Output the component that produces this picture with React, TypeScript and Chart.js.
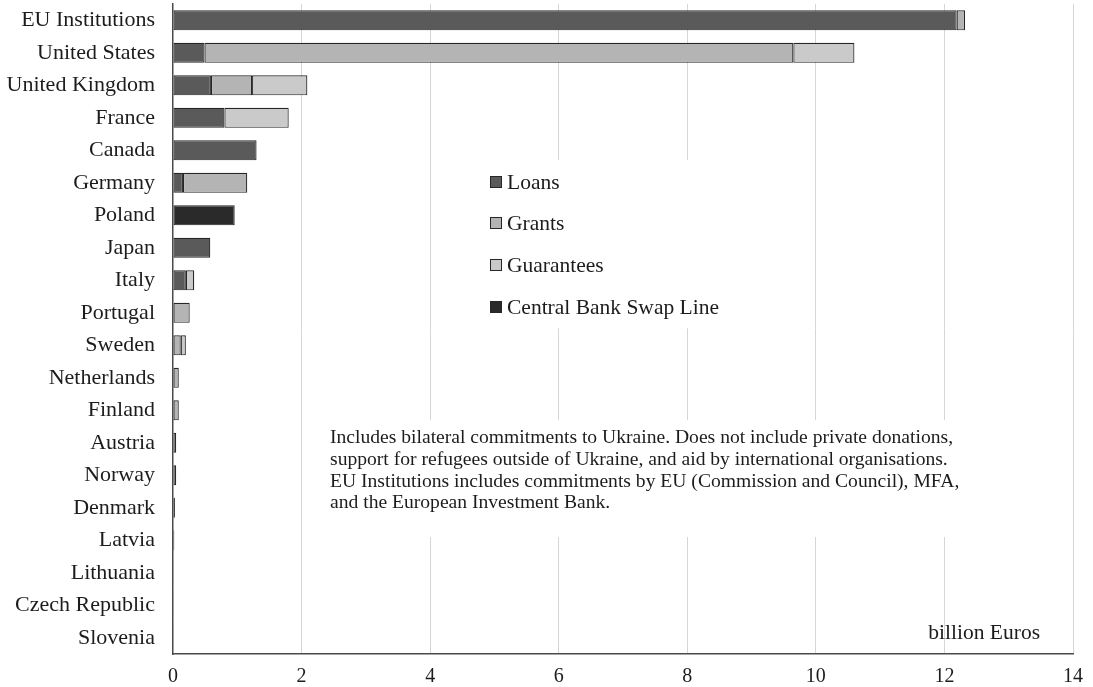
import React, { useEffect, useRef } from "react";
import { Chart, registerables } from "chart.js";

Chart.register(...registerables);

const categories = [
  "EU Institutions", "United States", "United Kingdom", "France", "Canada",
  "Germany", "Poland", "Japan", "Italy", "Portugal", "Sweden", "Netherlands",
  "Finland", "Austria", "Norway", "Denmark", "Latvia", "Lithuania",
  "Czech Republic", "Slovenia",
];

const loans = [12.19, 0.49, 0.59, 0.8, 1.3, 0.155, null, 0.58, 0.2, null, null, null, null, null, null, null, null, null, null, null];
const grants = [0.13, 9.16, 0.64, null, null, 1.0, null, null, null, 0.26, 0.12, 0.09, 0.09, 0.05, 0.05, 0.03, 0.02, 0.01, 0.01, 0.005];
const guarantees = [null, 0.95, 0.86, 1.0, null, null, null, null, 0.13, null, 0.08, null, null, null, null, null, null, null, null, null];
const swapLine = [null, null, null, null, null, null, 0.96, null, null, null, null, null, null, null, null, null, null, null, null, null];

const xTicks = [0, 2, 4, 6, 8, 10, 12, 14];

const noteLines = [
  "Includes bilateral commitments to Ukraine. Does not include private donations,",
  "support for refugees outside of Ukraine, and aid by international organisations.",
  "EU Institutions includes commitments by EU (Commission and Council), MFA,",
  "and the European Investment Bank.",
];
const unitLabel = "billion Euros";

const FONT = "'Liberation Serif', 'Times New Roman', serif";
const TEXT = "#1c1c1c";

export default function App() {
  const ref = useRef<HTMLCanvasElement | null>(null);

  useEffect(() => {
    const canvas = ref.current;
    if (!canvas) return;

    const overlay = {
      id: "overlay",
      beforeDatasetsDraw(chart: any) {
        const ctx = chart.ctx;
        ctx.save();
        ctx.fillStyle = "#ffffff";
        ctx.fillRect(470, 160, 290, 168);
        ctx.fillRect(320, 420, 730, 117);
        ctx.restore();
      },
      afterDatasetsDraw(chart: any) {
        const ctx = chart.ctx;
        ctx.save();
        const ys = [182, 223, 265, 307];
        chart.data.datasets.forEach((ds: any, i: number) => {
          const y = ys[i];
          ctx.fillStyle = ds.backgroundColor;
          ctx.fillRect(490.5, y - 5.5, 11, 11);
          ctx.strokeStyle = "#262626";
          ctx.lineWidth = 1;
          ctx.strokeRect(490.5, y - 5.5, 11, 11);
          ctx.fillStyle = TEXT;
          ctx.font = `21.5px ${FONT}`;
          ctx.textBaseline = "middle";
          ctx.textAlign = "left";
          ctx.fillText(ds.label, 507, y + 1);
        });
        ctx.font = `19.6px ${FONT}`;
        ctx.fillStyle = TEXT;
        ctx.textBaseline = "middle";
        ctx.textAlign = "left";
        noteLines.forEach((l, i) => ctx.fillText(l, 330, 438 + i * 21.7));
        ctx.font = `21.5px ${FONT}`;
        ctx.textAlign = "right";
        ctx.fillText(unitLabel, 1040, 633);
        ctx.restore();
      },
    };

    const chart = new Chart(canvas, {
      type: "bar",
      data: {
        labels: categories,
        datasets: [
          { label: "Loans", data: loans as any, backgroundColor: "#5a5a5a" },
          { label: "Grants", data: grants as any, backgroundColor: "#b4b4b4" },
          { label: "Guarantees", data: guarantees as any, backgroundColor: "#cacaca" },
          { label: "Central Bank Swap Line", data: swapLine as any, backgroundColor: "#2a2a2a" },
        ].map((d) => ({
          ...d,
          borderColor: "#262626",
          borderWidth: 1.2,
          borderSkipped: false,
          barPercentage: 0.62,
          categoryPercentage: 1,
        })),
      },
      options: {
        indexAxis: "y",
        animation: false,
        responsive: false,
        maintainAspectRatio: false,
        layout: { padding: { top: 4, right: 20, left: 0, bottom: 0 } },
        plugins: {
          legend: { display: false },
          tooltip: { enabled: false },
        },
        scales: {
          x: {
            stacked: true,
            min: 0,
            max: 14,
            afterBuildTicks(scale: any) {
              scale.ticks = xTicks.map((v) => ({ value: v }));
            },
            afterFit(scale: any) {
              scale.height = 33;
              scale.paddingLeft = 0;
              scale.paddingRight = 0;
            },
            grid: {
              color: (c: any) => (c.tick && c.tick.value === 0 ? "rgba(0,0,0,0)" : "#d6d6d6"),
              lineWidth: 1,
              drawTicks: false,
            },
            border: { color: "#4a4a4a", width: 1.5 },
            ticks: {
              padding: 11,
              color: TEXT,
              font: { family: FONT, size: 20 },
            },
          },
          y: {
            stacked: true,
            afterFit(scale: any) {
              scale.width = 173;
              scale.paddingTop = 0;
              scale.paddingBottom = 0;
            },
            grid: { display: false, drawTicks: false },
            border: { color: "#4a4a4a", width: 1.5 },
            ticks: {
              padding: 18,
              color: TEXT,
              autoSkip: false,
              font: { family: FONT, size: 22 },
            },
          },
        },
      },
      plugins: [overlay],
    });

    return () => chart.destroy();
  }, []);

  return (
    <div style={{ position: "fixed", left: 0, top: 0, width: 1093, height: 687, background: "#fff" }}>
      <canvas ref={ref} width={1093} height={687} style={{ width: 1093, height: 687, display: "block" }} />
    </div>
  );
}
